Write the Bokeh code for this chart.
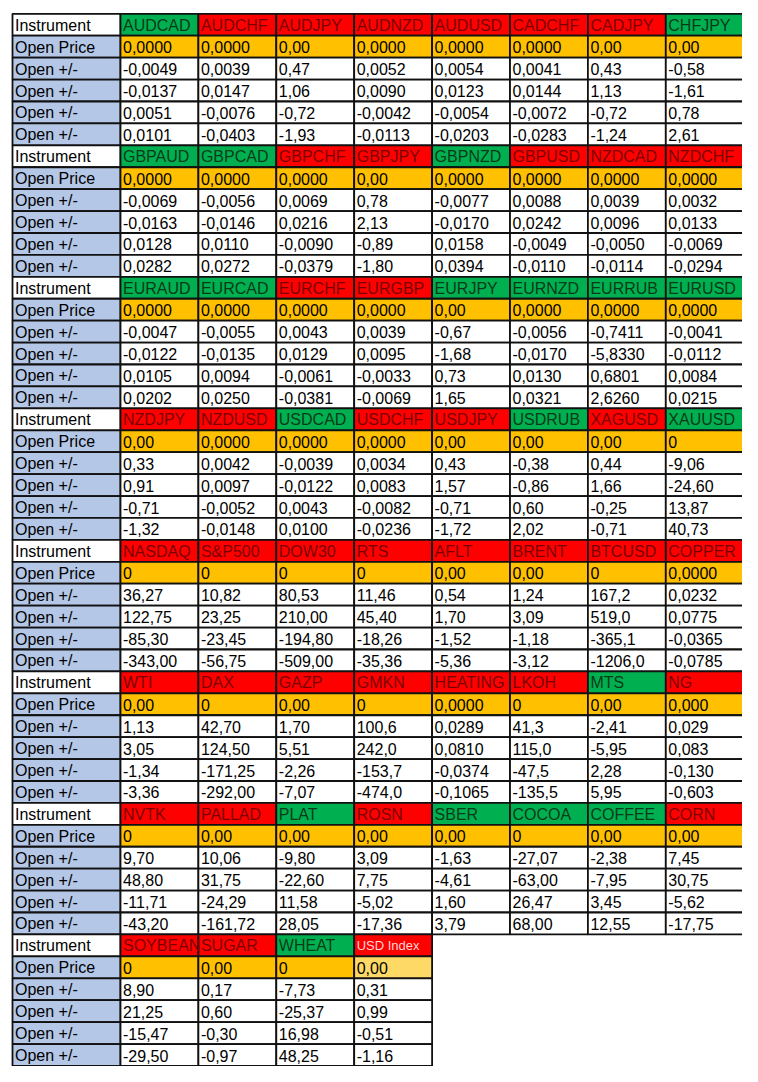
from bokeh.plotting import figure
from bokeh.models import Range1d, ColumnDataSource
from bokeh.core.properties import value
from bokeh.embed import file_html
from bokeh.resources import INLINE

# ---------------- data ----------------
instruments = [
    "AUDCAD", "AUDCHF", "AUDJPY", "AUDNZD", "AUDUSD", "CADCHF", "CADJPY", "CHFJPY",
    "GBPAUD", "GBPCAD", "GBPCHF", "GBPJPY", "GBPNZD", "GBPUSD", "NZDCAD", "NZDCHF",
    "EURAUD", "EURCAD", "EURCHF", "EURGBP", "EURJPY", "EURNZD", "EURRUB", "EURUSD",
    "NZDJPY", "NZDUSD", "USDCAD", "USDCHF", "USDJPY", "USDRUB", "XAGUSD", "XAUUSD",
    "NASDAQ", "S&P500", "DOW30", "RTS", "AFLT", "BRENT", "BTCUSD", "COPPER",
    "WTI", "DAX", "GAZP", "GMKN", "HEATING", "LKOH", "MTS", "NG",
    "NVTK", "PALLAD", "PLAT", "ROSN", "SBER", "COCOA", "COFFEE", "CORN",
    "SOYBEAN", "SUGAR", "WHEAT", "USD Index",
]
# G = green header, R = red header, r = faded red header
header_color = [
    "G", "R", "R", "R", "R", "R", "R", "G",
    "G", "G", "R", "R", "G", "R", "R", "R",
    "G", "G", "R", "R", "G", "G", "G", "G",
    "R", "R", "G", "R", "R", "G", "R", "G",
    "R", "R", "R", "R", "R", "R", "R", "R",
    "R", "R", "R", "R", "R", "R", "G", "R",
    "R", "R", "G", "R", "G", "G", "G", "R",
    "R", "R", "G", "r",
]
open_price = [
    "0,0000", "0,0000", "0,00", "0,0000", "0,0000", "0,0000", "0,00", "0,00",
    "0,0000", "0,0000", "0,0000", "0,00", "0,0000", "0,0000", "0,0000", "0,0000",
    "0,0000", "0,0000", "0,0000", "0,0000", "0,00", "0,0000", "0,0000", "0,0000",
    "0,00", "0,0000", "0,0000", "0,0000", "0,00", "0,00", "0,00", "0",
    "0", "0", "0", "0", "0,00", "0,00", "0", "0,0000",
    "0,00", "0", "0,00", "0", "0,0000", "0", "0,00", "0,000",
    "0", "0,00", "0,00", "0,00", "0,00", "0", "0,00", "0,00",
    "0", "0,00", "0", "0,00",
]
move_1 = [
    "-0,0049", "0,0039", "0,47", "0,0052", "0,0054", "0,0041", "0,43", "-0,58",
    "-0,0069", "-0,0056", "0,0069", "0,78", "-0,0077", "0,0088", "0,0039", "0,0032",
    "-0,0047", "-0,0055", "0,0043", "0,0039", "-0,67", "-0,0056", "-0,7411", "-0,0041",
    "0,33", "0,0042", "-0,0039", "0,0034", "0,43", "-0,38", "0,44", "-9,06",
    "36,27", "10,82", "80,53", "11,46", "0,54", "1,24", "167,2", "0,0232",
    "1,13", "42,70", "1,70", "100,6", "0,0289", "41,3", "-2,41", "0,029",
    "9,70", "10,06", "-9,80", "3,09", "-1,63", "-27,07", "-2,38", "7,45",
    "8,90", "0,17", "-7,73", "0,31",
]
move_2 = [
    "-0,0137", "0,0147", "1,06", "0,0090", "0,0123", "0,0144", "1,13", "-1,61",
    "-0,0163", "-0,0146", "0,0216", "2,13", "-0,0170", "0,0242", "0,0096", "0,0133",
    "-0,0122", "-0,0135", "0,0129", "0,0095", "-1,68", "-0,0170", "-5,8330", "-0,0112",
    "0,91", "0,0097", "-0,0122", "0,0083", "1,57", "-0,86", "1,66", "-24,60",
    "122,75", "23,25", "210,00", "45,40", "1,70", "3,09", "519,0", "0,0775",
    "3,05", "124,50", "5,51", "242,0", "0,0810", "115,0", "-5,95", "0,083",
    "48,80", "31,75", "-22,60", "7,75", "-4,61", "-63,00", "-7,95", "30,75",
    "21,25", "0,60", "-25,37", "0,99",
]
move_3 = [
    "0,0051", "-0,0076", "-0,72", "-0,0042", "-0,0054", "-0,0072", "-0,72", "0,78",
    "0,0128", "0,0110", "-0,0090", "-0,89", "0,0158", "-0,0049", "-0,0050", "-0,0069",
    "0,0105", "0,0094", "-0,0061", "-0,0033", "0,73", "0,0130", "0,6801", "0,0084",
    "-0,71", "-0,0052", "0,0043", "-0,0082", "-0,71", "0,60", "-0,25", "13,87",
    "-85,30", "-23,45", "-194,80", "-18,26", "-1,52", "-1,18", "-365,1", "-0,0365",
    "-1,34", "-171,25", "-2,26", "-153,7", "-0,0374", "-47,5", "2,28", "-0,130",
    "-11,71", "-24,29", "11,58", "-5,02", "1,60", "26,47", "3,45", "-5,62",
    "-15,47", "-0,30", "16,98", "-0,51",
]
move_4 = [
    "0,0101", "-0,0403", "-1,93", "-0,0113", "-0,0203", "-0,0283", "-1,24", "2,61",
    "0,0282", "0,0272", "-0,0379", "-1,80", "0,0394", "-0,0110", "-0,0114", "-0,0294",
    "0,0202", "0,0250", "-0,0381", "-0,0069", "1,65", "0,0321", "2,6260", "0,0215",
    "-1,32", "-0,0148", "0,0100", "-0,0236", "-1,72", "2,02", "-0,71", "40,73",
    "-343,00", "-56,75", "-509,00", "-35,36", "-5,36", "-3,12", "-1206,0", "-0,0785",
    "-3,36", "-292,00", "-7,07", "-474,0", "-0,1065", "-135,5", "5,95", "-0,603",
    "-43,20", "-161,72", "28,05", "-17,36", "3,79", "68,00", "12,55", "-17,75",
    "-29,50", "-0,97", "48,25", "-1,16",
]
row_labels = ["Instrument", "Open Price", "Open +/-", "Open +/-", "Open +/-", "Open +/-"]

# ---------------- layout ----------------
X0, W0, W = 12.0, 108.0, 77.9
Y0, H = 13.3, 21.92
PER_BLOCK = 8

FILL = {"G": "#00B050", "R": "#FF0000", "r": "#FF0000"}
TXT = {"G": "#0A3A18", "R": "#7A0000", "r": "#FFD6D6"}
LABEL_BG = "#B4C7E7"
ORANGE = "#FFC000"
ORANGE_LIGHT = "#FFD966"

cells = dict(left=[], right=[], top=[], bottom=[], fill=[])
texts = dict(x=[], y=[], text=[], color=[], size=[])

n = len(instruments)
n_blocks = (n + PER_BLOCK - 1) // PER_BLOCK
for b in range(n_blocks):
    idx = list(range(b * PER_BLOCK, min(n, (b + 1) * PER_BLOCK)))
    for r in range(6):
        top = Y0 + (b * 6 + r) * H
        bot = top + H
        # label column
        cells["left"].append(X0); cells["right"].append(X0 + W0)
        cells["top"].append(top); cells["bottom"].append(bot)
        cells["fill"].append("#FFFFFF" if r == 0 else LABEL_BG)
        texts["x"].append(X0 + 2.5); texts["y"].append(top + H / 2 + 0.5)
        texts["text"].append(row_labels[r]); texts["color"].append("#000000")
        texts["size"].append("16px")
        for c, i in enumerate(idx):
            left = X0 + W0 + c * W
            cells["left"].append(left); cells["right"].append(left + W)
            cells["top"].append(top); cells["bottom"].append(bot)
            hc = header_color[i]
            if r == 0:
                cells["fill"].append(FILL[hc])
                txt, col = instruments[i], TXT[hc]
                size = "13px" if hc == "r" else "16px"
            elif r == 1:
                cells["fill"].append(ORANGE_LIGHT if hc == "r" else ORANGE)
                txt, col, size = open_price[i], "#000000", "16px"
            else:
                cells["fill"].append("#FFFFFF")
                txt = [move_1, move_2, move_3, move_4][r - 2][i]
                col, size = "#000000", "16px"
            texts["x"].append(left + 2.5); texts["y"].append(top + H / 2 + 0.5)
            texts["text"].append(txt); texts["color"].append(col)
            texts["size"].append(size)

p = figure(width=742, height=1066, output_backend="svg", toolbar_location=None,
           x_range=Range1d(0, 742), y_range=Range1d(1066, 0),
           min_border=0, min_border_left=0, min_border_right=0,
           min_border_top=0, min_border_bottom=0)
p.axis.visible = False
p.grid.visible = False
p.outline_line_color = None
p.background_fill_color = "#FFFFFF"
p.border_fill_color = "#FFFFFF"

p.quad(left="left", right="right", top="top", bottom="bottom", fill_color="fill",
       line_color="#111111", line_width=1.8, source=ColumnDataSource(cells))
p.text(x="x", y="y", text="text", text_color="color", text_font_size="size",
       text_font=value("Liberation Sans"), text_baseline="middle", text_align="left",
       source=ColumnDataSource(texts))

open("out.html", "w").write(file_html(p, INLINE))
